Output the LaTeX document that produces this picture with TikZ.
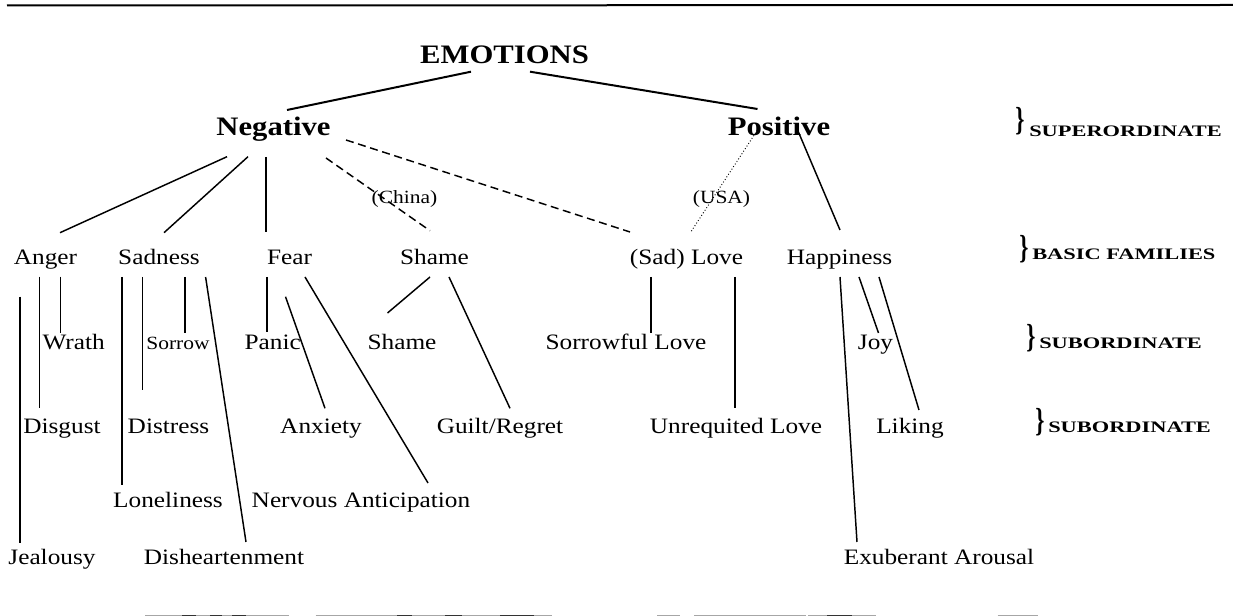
\documentclass[tikz,border=0pt]{standalone}
\usepackage{fontspec}
\setmainfont{Liberation Serif}[FakeStretch=1.15]
\newfontfamily\capsf{Liberation Serif}[FakeStretch=1.4]
\newfontfamily\bracef{Liberation Serif}[FakeStretch=0.7]
\begin{document}
\begin{tikzpicture}[x=0.75pt,y=-0.75pt,
  lab/.style={inner sep=0pt, anchor=base, font=\fontsize{16.5}{18}\selectfont},
  sml/.style={inner sep=0pt, anchor=base, font=\fontsize{14}{16}\selectfont},
  head/.style={inner sep=0pt, anchor=base, font=\fontsize{20}{22}\selectfont\bfseries},
  lvl/.style={inner sep=0pt, anchor=base west, font=\capsf\bfseries\fontsize{12}{14}\selectfont},
  brc/.style={inner sep=0pt, anchor=base west, font=\bracef\bfseries\fontsize{25}{27}\selectfont},
  edge/.style={line width=1.1pt},
  heavy/.style={line width=1.5pt},
  dsh/.style={line width=1.1pt, dash pattern=on 6pt off 3.5pt},
  dot/.style={line width=0.7pt, dash pattern=on 0.7pt off 1.6pt},
  scan/.style={line width=1.2pt, black!35},
  scandark/.style={line width=1.2pt, black!80},
]
\useasboundingbox (0,0) rectangle (1233,616);

% page rules (scan)
\draw[line width=1.5pt] (7,5.5) -- (1233,5);
\foreach \a/\b in {145/289, 315.5/551.6, 657/680, 694/806, 808/876, 997.7/1038}
  \draw[scan] (\a,615.4) -- (\b,615.4);
\foreach \a/\b in {182/196, 210/222, 232/246, 397/412, 445/462, 500/534, 827/851.5}
  \draw[scandark] (\a,615.4) -- (\b,615.4);

% top levels
\node[head] (emo) at (504.5,64) {EMOTIONS};
\node[head] (neg) at (273.5,136) {Negative};
\node[head] (pos) at (779,136) {Positive};
\node[sml] (china) at (404.5,204) {(China)};
\node[sml] (usa) at (721.5,204) {(USA)};

% basic families
\node[lab] (anger) at (45.5,265) {Anger};
\node[lab] (sadness) at (159,265) {Sadness};
\node[lab] (fear) at (289.5,265) {Fear};
\node[lab] (shame) at (434.5,265) {Shame};
\node[lab] (love) at (686.5,265) {(Sad) Love};
\node[lab] (happy) at (839.5,265) {Happiness};

% subordinate 1
\node[lab] (wrath) at (73.7,350) {Wrath};
\node[sml] (sorrow) at (178,350) {Sorrow};
\node[lab] (panic) at (272.7,350) {Panic};
\node[lab] (shame2) at (402,350) {Shame};
\node[lab] (sorlove) at (626,350) {Sorrowful Love};
\node[lab] (joy) at (875.5,350) {Joy};

% subordinate 2
\node[lab] (disgust) at (62,434) {Disgust};
\node[lab] (distress) at (168.5,434) {Distress};
\node[lab] (anxiety) at (321,434) {Anxiety};
\node[lab] (guilt) at (500,434) {Guilt/Regret};
\node[lab] (unreq) at (736,434) {Unrequited Love};
\node[lab] (liking) at (910,434) {Liking};

% lower rows
\node[lab] (lonely) at (168,508) {Loneliness};
\node[lab] (nervous) at (361,508) {Nervous Anticipation};
\node[lab] (jealousy) at (52,565) {Jealousy};
\node[lab] (dishear) at (224,565) {Disheartenment};
\node[lab] (exub) at (939,565) {Exuberant Arousal};

% level labels
\node[brc] (b1) at (1015,131) {\}};
\node[lvl] (l1) at (1029,137) {SUPERORDINATE};
\node[brc] (b2) at (1019,258.6) {\}};
\node[lvl] (l2) at (1032,260) {BASIC FAMILIES};
\node[brc] (b3) at (1026,347.6) {\}};
\node[lvl] (l3) at (1039,349) {SUBORDINATE};
\node[brc] (b4) at (1035,431.6) {\}};
\node[lvl] (l4) at (1048,433) {SUBORDINATE};

% connectors
\draw[heavy] ([shift={(-33.5,7.7)}]emo.base) -- ([shift={(13.5,-26)}]neg.base);
\draw[heavy] ([shift={(25.5,7.7)}]emo.base) -- ([shift={(-21.5,-27)}]pos.base);

\draw[edge] ([shift={(-46.5,20.7)}]neg.base) -- ([shift={(14.5,-32.3)}]anger.base);
\draw[edge] ([shift={(-25.5,20.7)}]neg.base) -- ([shift={(5,-32.3)}]sadness.base);
\draw[edge] ([shift={(-7.5,21)}]neg.base) -- ([shift={(-23.5,-33)}]fear.base);
\draw[dsh] ([shift={(52.5,22)}]neg.base) -- ([shift={(-4.5,-34.3)}]shame.base);
\draw[dsh] ([shift={(72.5,4)}]neg.base) -- ([shift={(-56.5,-33)}]love.base);
\draw[dot] ([shift={(-20,-8.3)}]pos.base) -- ([shift={(4.5,-33.3)}]love.base);
\draw[edge] ([shift={(19,-5)}]pos.base) -- ([shift={(0.5,-35)}]happy.base);

\draw[edge] ([shift={(-6,11.7)}]anger.base) -- ([shift={(-22.5,-26)}]disgust.base);
\draw[edge] ([shift={(15,11.7)}]anger.base) -- ([shift={(-13.2,-17)}]wrath.base);
\draw[edge] ([shift={(-25.7,31.7)}]anger.base) -- ([shift={(-32.2,-22)}]jealousy.base);

\draw[edge] ([shift={(-37.2,12)}]sadness.base) -- ([shift={(-46.2,-23)}]lonely.base);
\draw[edge] ([shift={(-16.7,12)}]sadness.base) -- ([shift={(-26.2,-44)}]distress.base);
\draw[edge] ([shift={(26,12)}]sadness.base) -- ([shift={(7,-17.3)}]sorrow.base);
\draw[edge] ([shift={(46.6,12)}]sadness.base) -- ([shift={(22,-23)}]dishear.base);

\draw[edge] ([shift={(-22.5,12)}]fear.base) -- ([shift={(-5.7,-18.3)}]panic.base);
\draw[edge] ([shift={(-4,31.7)}]fear.base) -- ([shift={(4,-25.7)}]anxiety.base);
\draw[edge] ([shift={(15.5,12)}]fear.base) -- ([shift={(67,-25)}]nervous.base);

\draw[edge] ([shift={(-4.5,12)}]shame.base) -- ([shift={(-14.5,-37)}]shame2.base);
\draw[edge] ([shift={(14.5,12)}]shame.base) -- ([shift={(10,-25.7)}]guilt.base);

\draw[edge] ([shift={(-35.5,12)}]love.base) -- ([shift={(25,-17)}]sorlove.base);
\draw[edge] ([shift={(48.5,12)}]love.base) -- ([shift={(-1,-26)}]unreq.base);

\draw[edge] ([shift={(19.5,12)}]happy.base) -- ([shift={(3,-17)}]joy.base);
\draw[edge] ([shift={(39.5,12)}]happy.base) -- ([shift={(9,-24)}]liking.base);
\draw[edge] ([shift={(0.5,12)}]happy.base) -- ([shift={(-82,-23)}]exub.base);
\end{tikzpicture}
\end{document}
